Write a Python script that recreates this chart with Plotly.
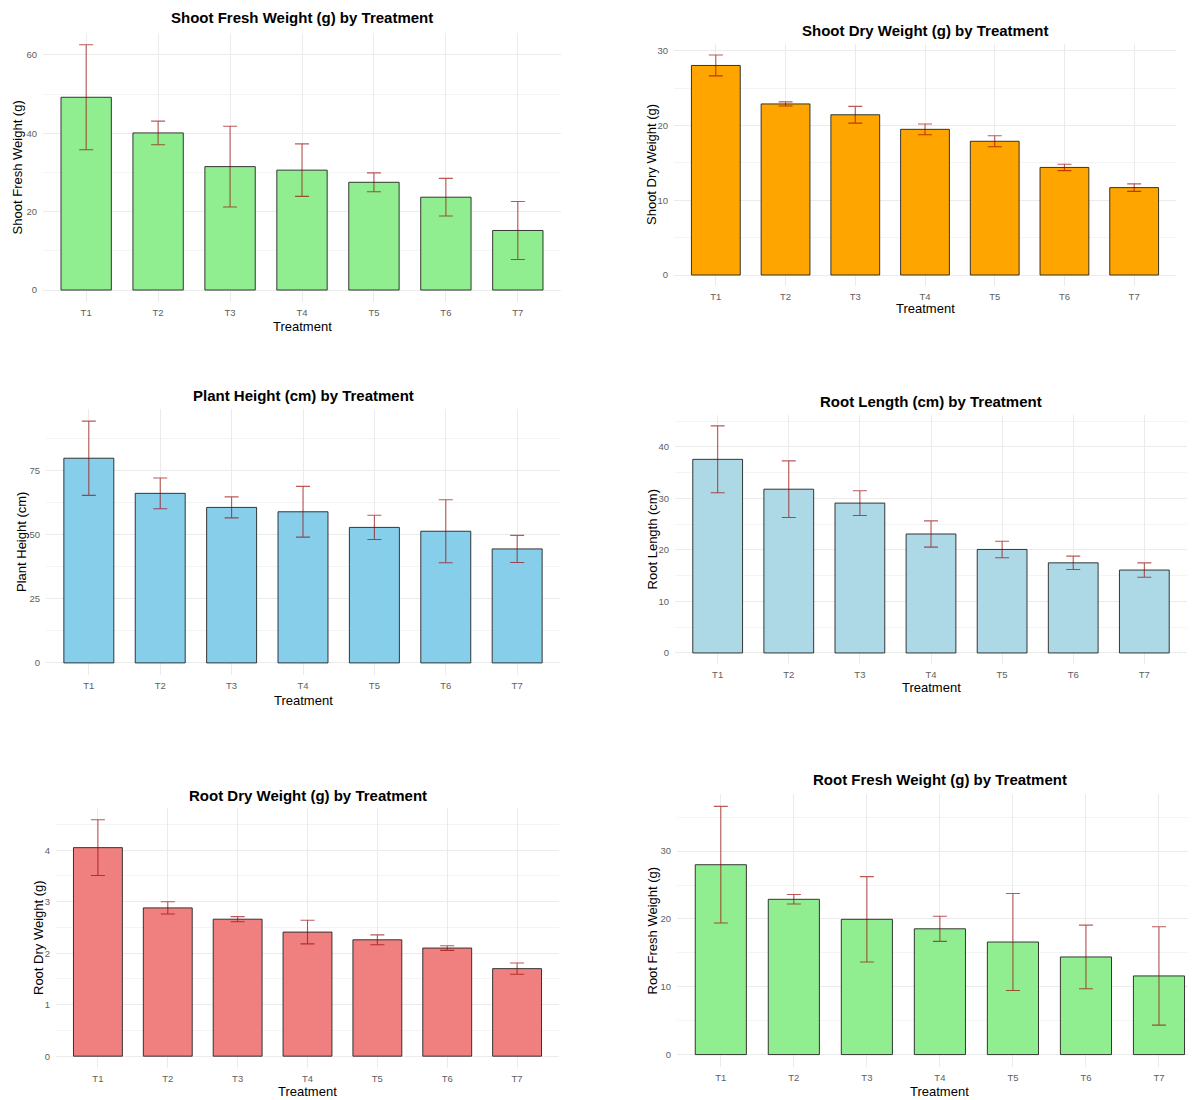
import plotly.graph_objects as go

# ---------------- data ----------------
treatments = ["T1", "T2", "T3", "T4", "T5", "T6", "T7"]

shoot_fresh_mean = [49.2, 40.1, 31.5, 30.6, 27.5, 23.7, 15.2]
shoot_fresh_sd = [13.4, 3.0, 10.3, 6.7, 2.4, 4.8, 7.4]

shoot_dry_mean = [28.05, 22.9, 21.45, 19.5, 17.9, 14.4, 11.7]
shoot_dry_sd = [1.4, 0.27, 1.12, 0.72, 0.74, 0.43, 0.5]

plant_height_mean = [79.9, 66.2, 60.7, 59.0, 52.9, 51.4, 44.5]
plant_height_sd = [14.5, 6.0, 4.1, 9.9, 4.75, 12.3, 5.3]

root_length_mean = [37.6, 31.8, 29.1, 23.1, 20.1, 17.5, 16.1]
root_length_sd = [6.5, 5.5, 2.4, 2.55, 1.6, 1.3, 1.4]

root_dry_mean = [4.05, 2.88, 2.66, 2.41, 2.26, 2.10, 1.70]
root_dry_sd = [0.54, 0.12, 0.05, 0.23, 0.095, 0.045, 0.11]

root_fresh_mean = [28.0, 22.9, 19.95, 18.55, 16.6, 14.4, 11.6]
root_fresh_sd = [8.6, 0.7, 6.3, 1.85, 7.15, 4.7, 7.25]

# ---------------- layout constants ----------------
W, H = 1196, 1100
OFF = 8  # page body margin
FONT = "Liberation Sans, Arial, sans-serif"
TICK_COLOR = "#606060"

panels = [
    dict(title="Shoot Fresh Weight (g) by Treatment", ylab="Shoot Fresh Weight (g)",
         mean=shoot_fresh_mean, sd=shoot_fresh_sd, color="#90EE90", dtick=20,
         box=(43, 561, 32.5, 302.3), title_y=18, xt_y=326, yt_x=17),
    dict(title="Shoot Dry Weight (g) by Treatment", ylab="Shoot Dry Weight (g)",
         mean=shoot_dry_mean, sd=shoot_dry_sd, color="#FFA500", dtick=10,
         box=(674, 1176, 44, 286), title_y=31, xt_y=308, yt_x=652),
    dict(title="Plant Height (cm) by Treatment", ylab="Plant Height (cm)",
         mean=plant_height_mean, sd=plant_height_sd, color="#87CEEB", dtick=25,
         box=(46, 560, 409, 675), title_y=395, xt_y=700, yt_x=21),
    dict(title="Root Length (cm) by Treatment", ylab="Root Length (cm)",
         mean=root_length_mean, sd=root_length_sd, color="#ADD8E6", dtick=10,
         box=(675, 1187, 414.5, 664.3), title_y=401, xt_y=687, yt_x=652),
    dict(title="Root Dry Weight (g) by Treatment", ylab="Root Dry Weight (g)",
         mean=root_dry_mean, sd=root_dry_sd, color="#F08080", dtick=1,
         box=(56, 559, 808, 1068), title_y=795, xt_y=1091, yt_x=38),
    dict(title="Root Fresh Weight (g) by Treatment", ylab="Root Fresh Weight (g)",
         mean=root_fresh_mean, sd=root_fresh_sd, color="#90EE90", dtick=10,
         box=(677, 1202.8, 794, 1067), title_y=779, xt_y=1091, yt_x=652),
]


def fx(px):
    return (px - OFF) / W


def fy(py):
    return 1 - (py - OFF) / H


fig = go.Figure()
annotations = []

for i, p in enumerate(panels, start=1):
    x0, x1, yt, yb = p["box"]
    xa = "x" if i == 1 else f"x{i}"
    ya = "y" if i == 1 else f"y{i}"
    fig.add_trace(go.Bar(
        x=treatments, y=p["mean"], xaxis=xa, yaxis=ya, width=0.7,
        marker=dict(color=p["color"], line=dict(color="#222222", width=0.9)),
        error_y=dict(type="data", array=p["sd"], visible=True,
                     color="rgba(150,0,0,0.65)", thickness=1.1, width=7),
        showlegend=False, hoverinfo="x+y",
    ))
    top = max(m + s for m, s in zip(p["mean"], p["sd"]))
    yr = [-0.05 * top, 1.05 * top]
    kx = "xaxis" if i == 1 else f"xaxis{i}"
    ky = "yaxis" if i == 1 else f"yaxis{i}"
    fig.layout[kx] = dict(
        domain=[fx(x0), min(1.0, fx(x1))], anchor=ya, type="category",
        range=[-0.6, 6.6], showgrid=True, gridcolor="#EBEBEB", gridwidth=1,
        showline=False, zeroline=False, ticks="", ticklabelstandoff=3,
        tickfont=dict(family=FONT, size=9.5, color=TICK_COLOR),
        fixedrange=True,
    )
    fig.layout[ky] = dict(
        domain=[fy(yb), fy(yt)], anchor=xa, range=yr,
        dtick=p["dtick"], tick0=0, showgrid=True, gridcolor="#EBEBEB", gridwidth=1,
        minor=dict(dtick=p["dtick"] / 2, showgrid=True, gridcolor="#F4F4F4", gridwidth=0.8),
        showline=False, zeroline=False, ticks="", ticklabelstandoff=5,
        tickfont=dict(family=FONT, size=9.5, color=TICK_COLOR),
        fixedrange=True,
    )
    cx = (x0 + x1) / 2
    annotations.append(dict(
        text=f"<b>{p['title']}</b>", x=fx(cx), y=fy(p["title_y"]),
        xref="paper", yref="paper", showarrow=False, xanchor="center", yanchor="middle",
        font=dict(family=FONT, size=15, color="#000000"),
    ))
    annotations.append(dict(
        text="Treatment", x=fx(cx), y=fy(p["xt_y"]),
        xref="paper", yref="paper", showarrow=False, xanchor="center", yanchor="middle",
        font=dict(family=FONT, size=13, color="#000000"),
    ))
    annotations.append(dict(
        text=p["ylab"], x=fx(p["yt_x"]), y=fy((yt + yb) / 2), textangle=-90,
        xref="paper", yref="paper", showarrow=False, xanchor="center", yanchor="middle",
        font=dict(family=FONT, size=13, color="#000000"),
    ))

fig.update_layout(
    width=W, height=H, margin=dict(l=0, r=0, t=0, b=0),
    paper_bgcolor="white", plot_bgcolor="white",
    annotations=annotations, bargap=0.3,
    font=dict(family=FONT),
)

fig.write_html("out.html", config={"displayModeBar": False})
